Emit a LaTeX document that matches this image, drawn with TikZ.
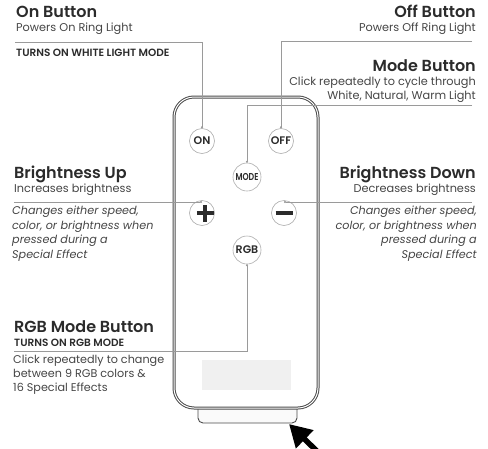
\documentclass[tikz,border=0pt]{standalone}
\usepackage{fontspec}
\setmainfont{Poppins}[BoldFont={Poppins SemiBold}]
\usetikzlibrary{arrows.meta}

\definecolor{ink}{HTML}{2B2B2B}
\definecolor{subink}{HTML}{454545}
\definecolor{wire}{HTML}{9A9A9A}

\tikzset{
  title/.style={anchor=base, inner sep=0pt, text=ink, font=\fontsize{16}{19}\selectfont\bfseries},
  sub/.style={anchor=base, inner sep=0pt, text=subink, font=\fontsize{11.3}{14}\selectfont},
  caps/.style={anchor=base, inner sep=0pt, text=ink, font=\fontsize{10.5}{11}\selectfont\bfseries},
  note/.style={anchor=base, inner sep=0pt, text=subink, font=\fontsize{11.2}{14.5}\selectfont\itshape},
  btn/.style={circle, draw=wire!80, line width=0.6pt, minimum size=25pt, inner sep=0pt,
    text=ink, font=\fontsize{11}{11}\selectfont\bfseries},
  conn/.style={draw=wire, line width=0.7pt, -{Circle[length=2pt, fill=wire!70!black]}},
}

\begin{document}
\begin{tikzpicture}[x=1pt, y=-1pt, >=latex]
    \useasboundingbox (0,0) rectangle (488,448);
    \clip (0,0) rectangle (488,448);

    % Remote body with bottom tab
    \draw[gray!60!black, line width=0.9pt, fill=gray!4, rounded corners=5pt]
        (198,400) -- (198,423) -- (297,423) -- (297,400);
    \draw[gray!60!black, line width=1pt, double=white, double distance=1pt,
        fill=white, rounded corners=20pt] (174,97) rectangle (318,408);
    \fill[gray!12] (202,360) rectangle (291,390);

    % Buttons
    \node[btn] (on) at (202,141) {ON};
    \node[btn] (off) at (281,141) {OFF};
    \node[btn, minimum size=28pt, font=\fontsize{10}{10}\selectfont\bfseries] (mode) at (247,177) {\scalebox{0.78}[1]{MODE}};
    \node[btn] (plus) at (202,213) {\rule[-1.5pt]{17pt}{4pt}\hspace{-10.5pt}\rule[-8pt]{4pt}{17pt}\hspace{6.5pt}};
    \node[btn] (minus) at (284,213) {\rule{17pt}{4pt}};
    \node[btn, minimum size=28pt] (rgb) at (247,250) {RGB};

    % Pointer arrow
    \draw[black, line width=5.5pt, -{Triangle[length=22pt, width=24pt]}] (324,458) -- (289,424);

    % On button texts
    \node[title, anchor=base west] (ontitle) at (16,17) {On Button};
    \node[sub, anchor=base west] (onsub) at (16,31) {Powers On Ring Light};
    \node[caps, anchor=base west] (oncaps) at (16,56) {TURNS ON WHITE LIGHT MODE};
    \coordinate (onL) at (15,42);

    % Off and mode button texts
    \node[title, anchor=base east] (offtitle) at (476,17) {Off Button};
    \node[sub, anchor=base east] (offsub) at (476,31) {Powers Off Ring Light};
    \coordinate (offR) at (472,41);
    \node[title, anchor=base east] (modetitle) at (476,71) {Mode Button};
    \node[sub, anchor=base east] (modesub1) at (476,85) {Click repeatedly to cycle through};
    \node[sub, anchor=base east] (modesub2) at (476,99) {White, Natural, Warm Light};
    \coordinate (modeR) at (472,105);

    % Brightness texts
    \node[title, anchor=base west] (uptitle) at (14,178) {Brightness Up};
    \node[sub, anchor=base west] (upsub) at (14,192) {Increases brightness};
    \coordinate (upL) at (14,202);
    \node[note, anchor=north west, align=left] (upnote) at (12,206)
        {Changes either speed,\\color, or brightness when\\pressed during a\\Special Effect};
    \node[title, anchor=base east] (downtitle) at (476,178) {Brightness Down};
    \node[sub, anchor=base east] (downsub) at (476,192) {Decreases brightness};
    \coordinate (downR) at (472,202);
    \node[note, anchor=north east, align=right] (downnote) at (477,206)
        {Changes either speed,\\color, or brightness when\\pressed during a\\Special Effect};

    % RGB texts
    \node[title, anchor=base west] (rgbtitle) at (14,332) {RGB Mode Button};
    \node[caps, anchor=base west] (rgbcaps) at (14,346) {TURNS ON RGB MODE};
    \coordinate (rgbL) at (14,351);
    \node[sub, anchor=north west, align=left, font=\fontsize{11.2}{14}\selectfont] (rgbsub) at (13,355)
        {Click repeatedly to change\\between 9 RGB colors \&\\16 Special Effects};

    % Connectors
    \draw[conn] (onL) -| (on);
    \draw[conn] (offR) -| (off);
    \draw[conn] (modeR) -| (mode);
    \draw[conn] (upL) -- (upL -| plus);
    \draw[conn] (downR) -- (downR -| minus);
    \draw[conn] (rgbL) -| (rgb);
\end{tikzpicture}
\end{document}
